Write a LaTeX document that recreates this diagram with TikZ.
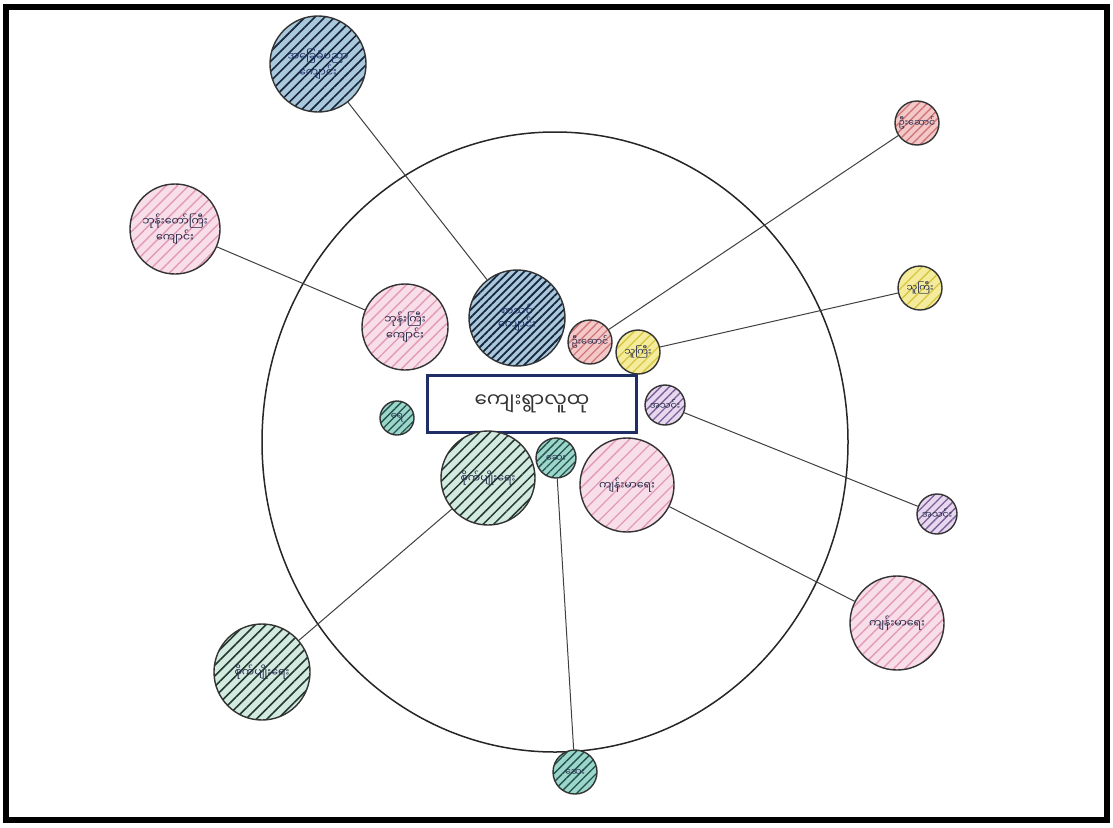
\documentclass[tikz,border=0pt]{standalone}
\usepackage{fontspec}
\newfontfamily\mm[Script=Myanmar]{Noto Sans Myanmar UI}
\usetikzlibrary{patterns.meta}
\definecolor{bluef}{HTML}{A9C8DC}\definecolor{bluel}{HTML}{17263C}
\definecolor{pinkf}{HTML}{F8DEE8}\definecolor{pinkl}{HTML}{E39AB6}
\definecolor{redf}{HTML}{F4C8C8}\definecolor{redl}{HTML}{D07878}
\definecolor{yelf}{HTML}{F4EC9C}\definecolor{yell}{HTML}{D6C640}
\definecolor{purf}{HTML}{E6D8EE}\definecolor{purl}{HTML}{7E5E96}
\definecolor{grnf}{HTML}{D2EADF}\definecolor{grnl}{HTML}{22382E}
\definecolor{tealf}{HTML}{9AD6CA}\definecolor{teall}{HTML}{24504B}
\definecolor{navy}{HTML}{1F2F66}
\definecolor{ink}{HTML}{262A4A}
\tikzset{
  bub/.style={circle, draw=black!80, line width=1.4pt, inner sep=0pt, align=center,
    text=ink, font=\mm\fontsize{11}{13}\selectfont},
  sbub/.style={bub, font=\mm\fontsize{9.5}{11}\selectfont},
  hatch/.style n args={4}{preaction={fill=#1},
    pattern={Lines[angle=45,distance=#3,line width=#4]}, pattern color=#2},
  conn/.style={draw=black!75, line width=1pt}
}
\begin{document}
\begin{tikzpicture}[x=1pt,y=-1pt]
\useasboundingbox (0,0) rectangle (1113,827);
\fill[white] (0,0) rectangle (1113,827);
\draw[line width=6pt] (6,7) rectangle (1107,820);
% big circle
\draw[line width=1.5pt, black!85] (555,442) ellipse [x radius=293, y radius=310];
% centre box
\node[draw=navy, line width=2.8pt, minimum width=209pt, minimum height=57pt,
  font=\mm\fontsize{20}{22}\selectfont, text=black!80] (c) at (532,404) {ကျေးရွာလူထု};
% inner circles
\node[bub, minimum size=86pt, hatch={pinkf}{pinkl}{8pt}{1.4pt}] (pi) at (405,327) {ဘုန်းကြီး\\ကျောင်း};
\node[bub, minimum size=96pt, text=navy, hatch={bluef}{bluel}{5.5pt}{1.8pt}] (bi) at (517,318) {စာသင်\\ကျောင်း};
\node[sbub, minimum size=44pt, hatch={redf}{redl}{6pt}{1.3pt}] (ri) at (590,342) {ဦးဆောင်};
\node[sbub, minimum size=44pt, hatch={yelf}{yell}{7pt}{1.3pt}] (yi) at (638,352) {သူကြီး};
\node[sbub, minimum size=40pt, hatch={purf}{purl}{6pt}{1.3pt}] (ui) at (665,405) {အသင်း};
\node[sbub, minimum size=34pt, hatch={tealf}{teall}{5.5pt}{1.3pt}] (ti) at (397,418) {ရေ};
\node[bub, minimum size=94pt, hatch={grnf}{grnl}{7.5pt}{1.5pt}] (gi) at (488,478) {စိုက်ပျိုးရေး};
\node[sbub, minimum size=40pt, hatch={tealf}{teall}{5.5pt}{1.3pt}] (si) at (556,458) {ဆေး};
\node[bub, minimum size=94pt, hatch={pinkf}{pinkl}{9pt}{1.3pt}] (ki) at (627,485) {ကျန်းမာရေး};
% outer circles
\node[bub, minimum size=96pt, text=navy, hatch={bluef}{bluel}{7pt}{1.6pt}] (bo) at (318,64) {အခြေခံပညာ\\ကျောင်း};
\node[bub, minimum size=90pt, hatch={pinkf}{pinkl}{8pt}{1.4pt}] (po) at (175,229) {ဘုန်းတော်ကြီး\\ကျောင်း};
\node[sbub, minimum size=44pt, hatch={redf}{redl}{6pt}{1.3pt}] (ro) at (917,123) {ဦးဆောင်};
\node[sbub, minimum size=44pt, hatch={yelf}{yell}{8pt}{1.3pt}] (yo) at (920,288) {သူကြီး};
\node[sbub, minimum size=40pt, hatch={purf}{purl}{6pt}{1.3pt}] (uo) at (937,514) {အသင်း};
\node[bub, minimum size=94pt, hatch={pinkf}{pinkl}{8pt}{1.4pt}] (ko) at (897,623) {ကျန်းမာရေး};
\node[bub, minimum size=96pt, hatch={grnf}{grnl}{7.5pt}{1.6pt}] (go) at (262,672) {စိုက်ပျိုးရေး};
\node[sbub, minimum size=44pt, hatch={tealf}{teall}{6pt}{1.3pt}] (so) at (575,772) {ဆေး};
% connectors
\draw[conn] (bo) -- (bi);
\draw[conn] (po) -- (pi);
\draw[conn] (ro) -- (ri);
\draw[conn] (yo) -- (yi);
\draw[conn] (uo) -- (ui);
\draw[conn] (ko) -- (ki);
\draw[conn] (go) -- (gi);
\draw[conn] (so) -- (si);
\end{tikzpicture}
\end{document}
